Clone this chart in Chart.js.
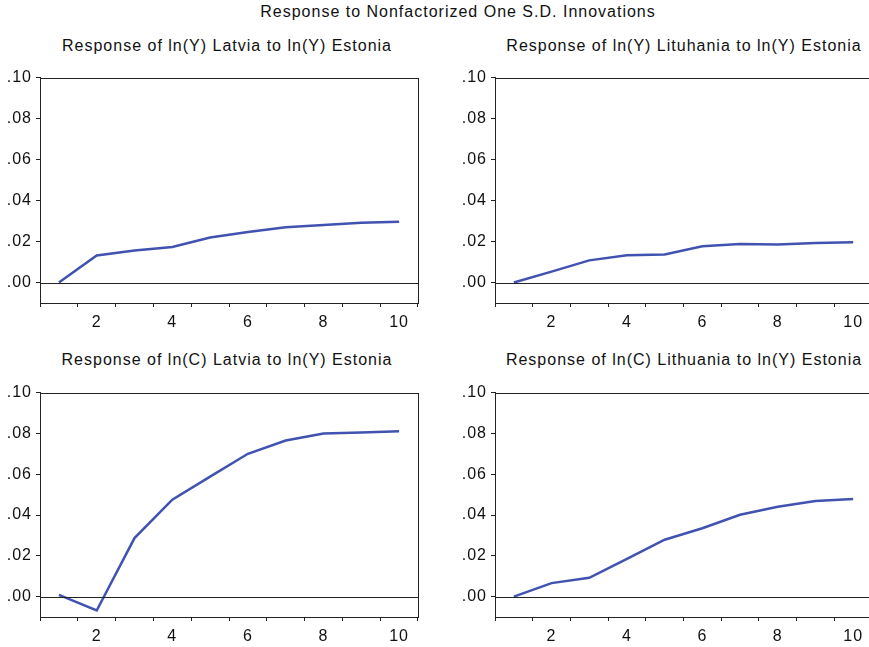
<!DOCTYPE html>
<html lang="en">
  <head>
    <meta charset="UTF-8" />
    <title>Response to Nonfactorized One S.D. Innovations</title>
    <style>
      html, body { margin: 0; padding: 0; }
      body {
        width: 869px; height: 647px; overflow: hidden; position: relative;
        background: #fff; font-family: "Liberation Sans", Arial, sans-serif; color: #111;
      }
      .title { position: absolute; font-size: 16px; letter-spacing: 1px; white-space: nowrap; transform: translateX(-50%); }
      .panel { position: absolute; }
    </style>
  </head>
  <body>
    <div class="title" style="left:458px; top:3px;">Response to Nonfactorized One S.D. Innovations</div>
    <div class="title" style="left:227px; top:37px;">Response of ln(Y) Latvia to ln(Y) Estonia</div>
    <div class="title" style="left:684px; top:37px;">Response of ln(Y) Lituhania to ln(Y) Estonia</div>
    <div class="title" style="left:227px; top:351px;">Response of ln(C) Latvia to ln(Y) Estonia</div>
    <div class="title" style="left:684px; top:351px;">Response of ln(C) Lithuania to ln(Y) Estonia</div>

    <div class="panel" style="left:0px; top:64px; width:430px; height:276px;"><canvas id="c1"></canvas></div>
    <div class="panel" style="left:450px; top:64px; width:424px; height:276px;"><canvas id="c2"></canvas></div>
    <div class="panel" style="left:0px; top:379px; width:430px; height:268px;"><canvas id="c3"></canvas></div>
    <div class="panel" style="left:450px; top:379px; width:424px; height:268px;"><canvas id="c4"></canvas></div>

    <script src="https://cdn.jsdelivr.net/npm/chart.js"></script>
    <script>
      // periods after the shock
      const periods = [1, 2, 3, 4, 5, 6, 7, 8, 9, 10];
      const yTickValues = [0, 0.02, 0.04, 0.06, 0.08, 0.10];
      const yMin = -0.01;
      const yMax = 0.10;

      const yLatvia = [0, 0.0132, 0.0156, 0.0173, 0.0220, 0.0246, 0.0270, 0.0281, 0.0292, 0.0297];
      const yLithuania = [0, 0.0053, 0.0108, 0.0133, 0.0137, 0.0177, 0.0188, 0.0186, 0.0193, 0.0197];
      const cLatvia = [0.0008, -0.0068, 0.0287, 0.0475, 0.0588, 0.0700, 0.0765, 0.0800, 0.0805, 0.0810];
      const cLithuania = [0, 0.0066, 0.0092, 0.0185, 0.0279, 0.0335, 0.0401, 0.0440, 0.0469, 0.0478];

      const lineColor = "#4152b0";
      const axisColor = "#222";
      const font = { family: "'Liberation Sans', Arial, sans-serif", size: 16 };

      // wider letters like the original, box round the plot + the zero line
      const framePlugin = {
        id: "frame",
        beforeDraw(chart) {
          chart.ctx.letterSpacing = "1px";
        },
        afterDraw(chart) {
          const { ctx, chartArea: a, scales } = chart;
          const y0 = Math.round(scales.y.getPixelForValue(0)) + 0.5;
          ctx.save();
          ctx.strokeStyle = axisColor;
          ctx.lineWidth = 1;
          ctx.beginPath();
          ctx.moveTo(a.left, y0);
          ctx.lineTo(a.right, y0);
          ctx.stroke();
          ctx.strokeRect(Math.round(a.left) + 0.5, Math.round(a.top) + 0.5, Math.round(a.right - a.left), Math.round(a.bottom - a.top));
          ctx.restore();
        },
      };

      function makeChart(id, values, yWidth, xHeight, pad) {
        new Chart(document.getElementById(id), {
          type: "line",
          data: {
            labels: periods,
            datasets: [
              {
                data: values,
                borderColor: lineColor,
                borderWidth: 2.5,
                pointRadius: 0,
                tension: 0,
                fill: false,
              },
            ],
          },
          options: {
            responsive: true,
            maintainAspectRatio: false,
            animation: false,
            events: [],
            layout: { padding: pad },
            plugins: { legend: { display: false }, tooltip: { enabled: false } },
            scales: {
              x: {
                type: "category",
                offset: true,
                grid: { offset: true, drawOnChartArea: false, color: axisColor, tickLength: 4 },
                border: { color: axisColor },
                ticks: {
                  autoSkip: false,
                  maxRotation: 0,
                  padding: 6,
                  color: "#111",
                  font: font,
                  callback: (v, i) => (periods[i] % 2 === 0 ? String(periods[i]) : ""),
                },
                afterFit: (axis) => { axis.height = xHeight; },
              },
              y: {
                min: yMin,
                max: yMax,
                grid: { drawOnChartArea: false, color: axisColor, tickLength: 4 },
                border: { color: axisColor },
                ticks: {
                  padding: 4,
                  color: "#111",
                  font: font,
                  callback: (v) => v.toFixed(2).replace(/^0/, ""),
                },
                afterBuildTicks: (axis) => { axis.ticks = yTickValues.map((v) => ({ value: v })); },
                afterFit: (axis) => { axis.width = yWidth; },
              },
            },
          },
          plugins: [framePlugin],
        });
      }

      makeChart("c1", yLatvia, 40, 37, { top: 10, right: 12, left: 0, bottom: 0 });
      makeChart("c2", yLithuania, 45, 37, { top: 10, right: 2, left: 0, bottom: 0 });
      makeChart("c3", cLatvia, 40, 30, { top: 10, right: 12, left: 0, bottom: 0 });
      makeChart("c4", cLithuania, 45, 30, { top: 10, right: 2, left: 0, bottom: 0 });
    </script>
  </body>
</html>
